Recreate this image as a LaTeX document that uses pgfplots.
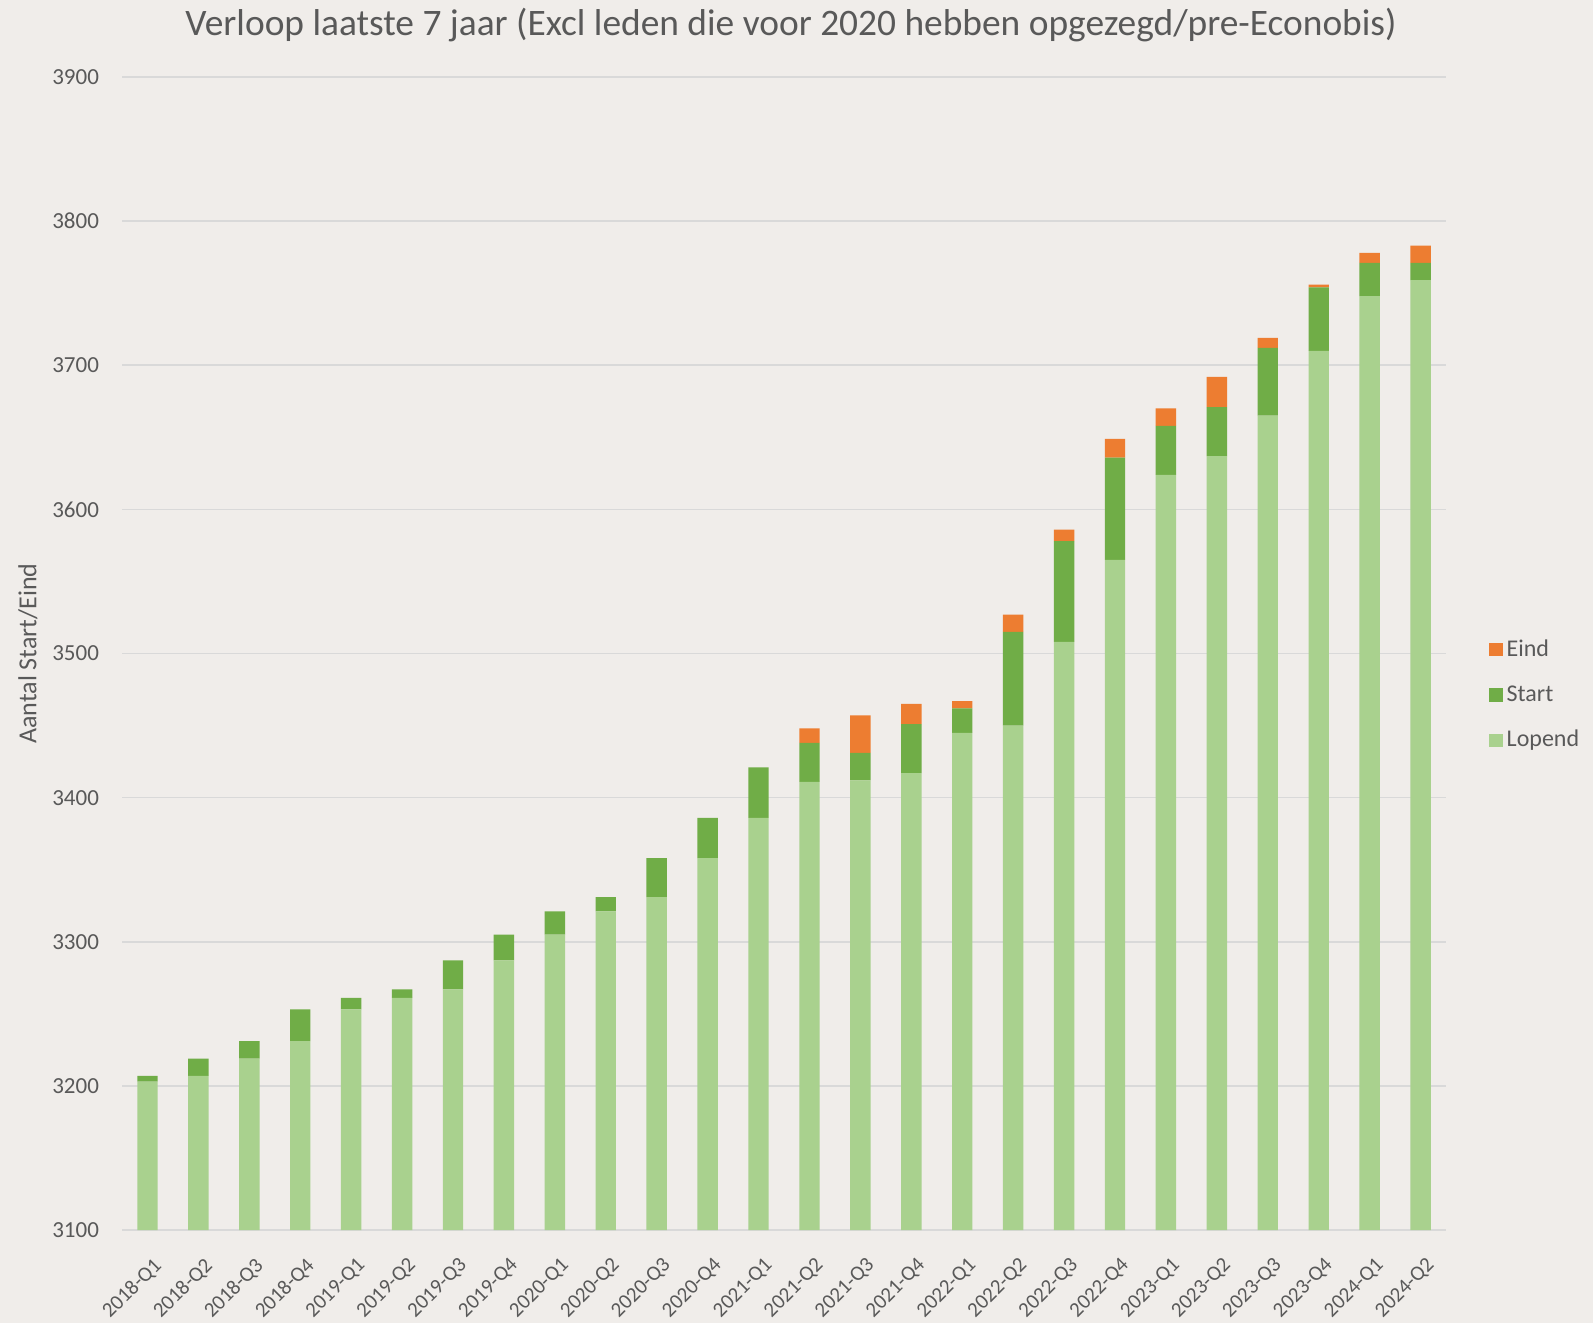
\documentclass[border=0pt]{standalone}
\usepackage{pgfplots}
\pgfplotsset{compat=1.18}
\usepackage{pgfplotstable}
\usepackage{fontspec}
\setmainfont{Carlito}
\definecolor{bg}{HTML}{F0EDEA}
\definecolor{lop}{HTML}{A9D18E}
\definecolor{sta}{HTML}{70AD47}
\definecolor{ein}{HTML}{ED7D31}
\definecolor{txt}{HTML}{595959}
\definecolor{gridc}{HTML}{D9D9D9}
\pgfplotstableread{
x lopend start eind
0 3203 4 0
1 3207 12 0
2 3219 12 0
3 3231 22 0
4 3253 8 0
5 3261 6 0
6 3267 20 0
7 3287 18 0
8 3305 16 0
9 3321 10 0
10 3331 27 0
11 3358 28 0
12 3386 35 0
13 3411 27 10
14 3412 19 26
15 3417 34 14
16 3445 17 5
17 3450 65 12
18 3508 70 8
19 3565 71 13
20 3624 34 12
21 3637 34 21
22 3665 47 7
23 3710 44 2
24 3748 23 7
25 3759 12 12
}\data
\begin{document}
\begin{tikzpicture}
\fill[bg] (-61pt,-46.5pt) rectangle (735.5pt,615pt);
\useasboundingbox (-61pt,-46.5pt) rectangle (735.5pt,615pt);
\begin{axis}[
  at={(0,0)}, anchor=south west,
  scale only axis, width=662pt, height=576.5pt,
  ybar stacked, bar width=10.2pt,
  xmin=-0.5, xmax=25.5, ymin=3100, ymax=3900,
  ytick={3100,3200,...,3900},
  xtick={0,...,25},
  xticklabels={2018-Q1,2018-Q2,2018-Q3,2018-Q4,2019-Q1,2019-Q2,2019-Q3,2019-Q4,2020-Q1,2020-Q2,2020-Q3,2020-Q4,2021-Q1,2021-Q2,2021-Q3,2021-Q4,2022-Q1,2022-Q2,2022-Q3,2022-Q4,2023-Q1,2023-Q2,2023-Q3,2023-Q4,2024-Q1,2024-Q2},
  xticklabel style={xshift=2.4pt, yshift=-13pt, rotate=45, anchor=north east, font=\fontsize{10.5pt}{12pt}\selectfont, text=txt, inner sep=0pt},
  yticklabel style={font=\fontsize{11.5pt}{13pt}\selectfont, text=txt},
  /pgf/number format/assume math mode=true,
  /pgf/number format/1000 sep={},
  axis line style={draw=none},
  y axis line style={draw=none},
  x axis line style={draw=gridc, line width=0.8pt},
  axis x line*=bottom, axis y line*=left,
  tick style={draw=none},
  major tick length=0pt,
  ymajorgrids, grid style={gridc, line width=0.8pt},
  yticklabel shift=8pt,
  ylabel={Aantal Start/Eind},
  every axis y label/.style={at={(axis description cs:-0.071,0.5)}, anchor=center, rotate=90, font=\fontsize{13pt}{15pt}\selectfont, text=txt},
  title={Verloop laatste 7 jaar (Excl leden die voor 2020 hebben opgezegd/pre-Econobis)},
  every axis title/.style={at={(axis description cs:0.5,1)}, anchor=center, yshift=26pt, xshift=3.5pt, font=\fontsize{18.7pt}{22pt}\selectfont, text=txt},
  legend style={at={(1.028,0.464)}, anchor=west, draw=none, fill=none, font=\fontsize{12pt}{13pt}\selectfont, text=txt, row sep=9pt},
  legend cell align=left,
  reverse legend,
  legend image code/.code={\fill[#1] (0pt,-3.3pt) rectangle (6.6pt,3.3pt);},
]
\addplot[fill=lop, draw=none] table[x=x, y=lopend] {\data};
\addplot[fill=sta, draw=none] table[x=x, y=start] {\data};
\addplot[fill=ein, draw=none] table[x=x, y=eind] {\data};
\legend{Lopend,Start,Eind}
\end{axis}
\end{tikzpicture}
\end{document}
